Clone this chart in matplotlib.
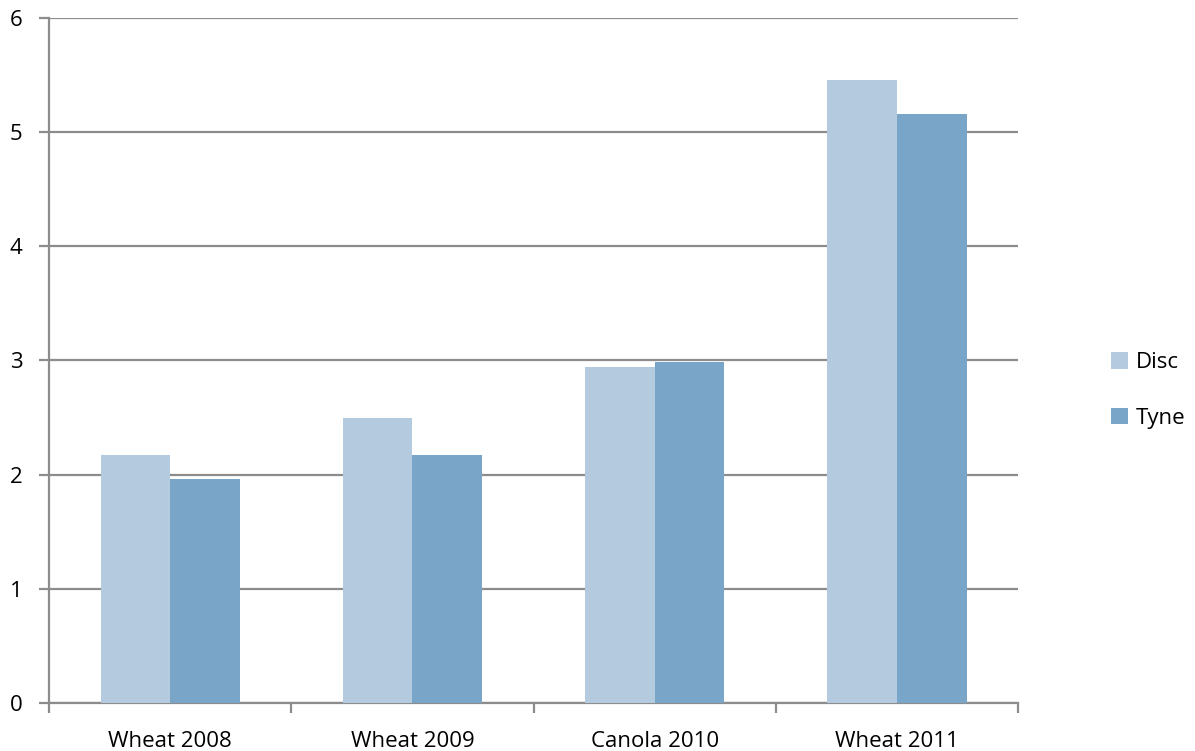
import numpy as np
import matplotlib.pyplot as plt

plt.rcParams['font.family'] = ['Open Sans', 'DejaVu Sans']

categories = ["Wheat 2008", "Wheat 2009", "Canola 2010", "Wheat 2011"]
disc = [2.17, 2.50, 2.94, 5.46]
tyne = [1.96, 2.17, 2.99, 5.16]

disc_color = '#B4CADF'
tyne_color = '#79A6C8'
grid_color = '#8C8C8C'

fig = plt.figure(figsize=(11.95, 7.51), dpi=100)
ax = fig.add_axes([0.041, 0.064, 0.811, 0.912])

x = np.arange(len(categories))
w = 0.287
b1 = ax.bar(x - w / 2, disc, w, color=disc_color, label='Disc', zorder=3)
b2 = ax.bar(x + w / 2, tyne, w, color=tyne_color, label='Tyne', zorder=3)

ax.set_xlim(-0.5, len(categories) - 0.5)
ax.set_ylim(0, 6)
ax.set_yticks(range(0, 7))
ax.yaxis.grid(True, color=grid_color, linewidth=1.6, zorder=0)
ax.set_axisbelow(True)

# ticks on category boundaries, labels centered
ax.set_xticks(np.arange(-0.5, len(categories), 1))
ax.set_xticklabels([])
ax.set_xticks(x, minor=True)
ax.set_xticklabels(categories, minor=True, fontsize=16)
ax.tick_params(axis='x', which='minor', length=0, pad=20)
ax.tick_params(axis='x', which='major', length=7, width=1.6, color=grid_color, direction='out')
ax.tick_params(axis='y', length=7, width=1.6, color=grid_color, direction='out', labelsize=16, pad=12)

for s in ['top', 'right']:
    ax.spines[s].set_visible(False)
for s in ['left', 'bottom']:
    ax.spines[s].set_color(grid_color)
    ax.spines[s].set_linewidth(1.6)

fig.legend(handles=[b1, b2], labels=['Disc', 'Tyne'], loc='center left',
           bbox_to_anchor=(0.913, 0.480), frameon=False, fontsize=16,
           handlelength=0.75, handleheight=0.75, handletextpad=0.35, labelspacing=1.55)

fig.savefig('out.png', dpi=100)
